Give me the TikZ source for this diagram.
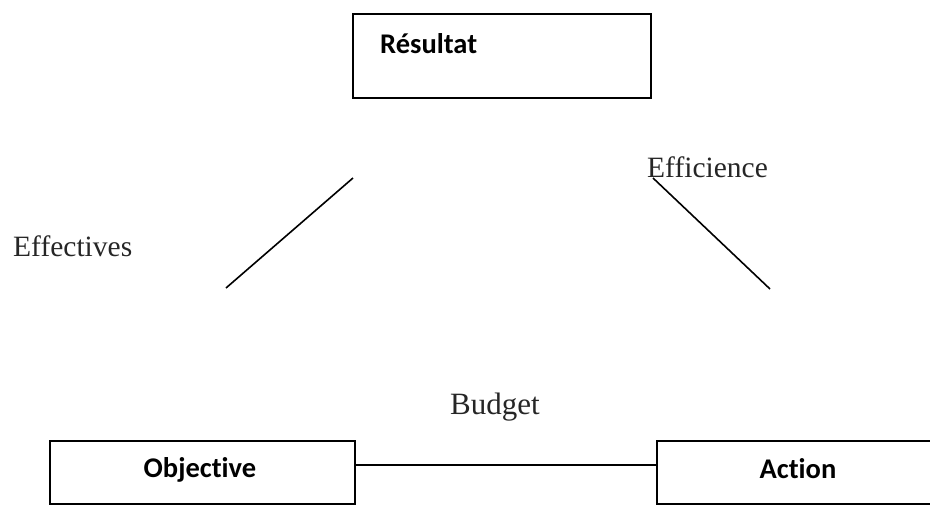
\documentclass[tikz,border=0pt]{standalone}
\usepackage{fontspec}
\setmainfont[Ligatures={NoCommon}]{Liberation Serif}
\newfontfamily\boxfont[Ligatures={NoCommon}]{Carlito}
\begin{document}
\begin{tikzpicture}[x=1pt,y=-1pt,
  boxframe/.style={draw=black, line width=1.6pt, rectangle, inner sep=0pt, anchor=north west},
  boxlabel/.style={font=\boxfont\bfseries\fontsize{28.5}{30}\selectfont, inner sep=0pt, text=black},
  seriflabel/.style={font=\fontsize{29.5}{32}\selectfont, inner sep=0pt, text=black!85, anchor=base west},
  link/.style={draw=black, line width=1.6pt}]
\useasboundingbox (0,0) rectangle (930,504);
\clip (0,0) rectangle (930,504);
% boxes
\node[boxframe, minimum width=298pt, minimum height=84pt] (res) at (352,13) {};
\node[boxframe, minimum width=305pt, minimum height=63pt] (obj) at (49,440) {};
\node[boxframe, minimum width=290pt, minimum height=63pt] (act) at (656,440) {};
% box texts
\node[boxlabel, anchor=base west] (restext) at (380,53) {Résultat};
\node[boxlabel, anchor=base] (objtext) at (200,477) {Objective};
\node[boxlabel, anchor=base] (acttext) at (798,478) {Action};
% labels
\node[seriflabel] (eff) at (13,256) {Effectives};
\node[seriflabel] (effi) at (647,177) {Efficience};
\node[seriflabel, font=\fontsize{31}{33}\selectfont] (bud) at (450,414) {Budget};
% free line ends
\coordinate (l1a) at (226,288);
\coordinate (l1b) at (353,178);
\coordinate (l2a) at (653,178);
\coordinate (l2b) at (770,289);
\coordinate (linky) at (0,465);
% connectors
\draw[link] (l1a) -- (l1b);
\draw[link] (l2a) -- (l2b);
\draw[link] (obj.east |- linky) -- (act.west |- linky);
\end{tikzpicture}
\end{document}
